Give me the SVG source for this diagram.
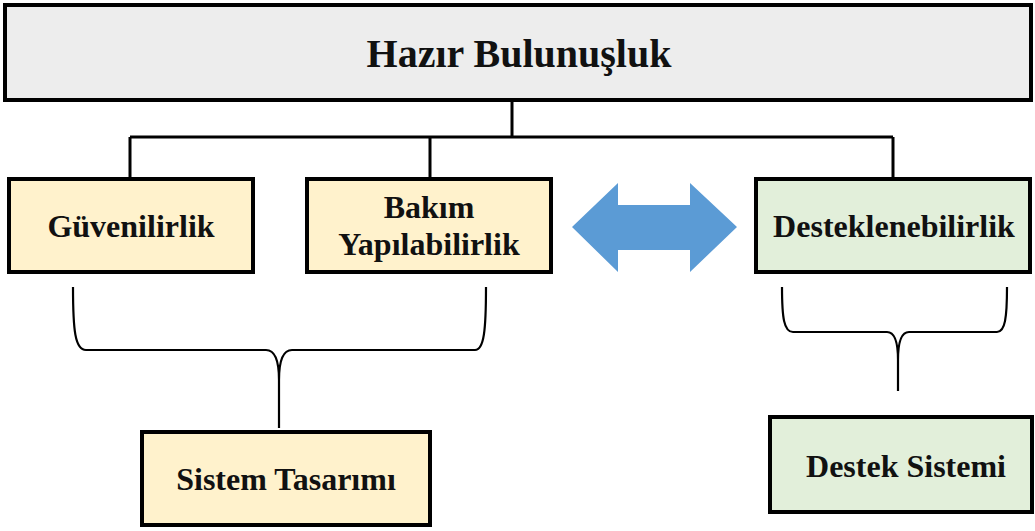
<svg xmlns="http://www.w3.org/2000/svg" width="1035" height="531" viewBox="0 0 1035 531">
  <style>
    .box { stroke: #000; stroke-width: 4; }
    .root { fill: #EDEDED; }
    .yellow { fill: #FFF2CC; }
    .green { fill: #E2EFDA; }
    .label { font-family: "Liberation Serif", "Times New Roman", serif; font-weight: bold; font-size: 32px; fill: #111; text-anchor: middle; }
    .tree { fill: none; stroke: #000; stroke-width: 3; }
    .brace { fill: none; stroke: #000; stroke-width: 2.2; }
  </style>
  <rect width="1035" height="531" fill="#fff"/>

  <!-- Connectors -->
  <g id="connectors">
    <path class="tree" d="M512,100 V137 M130,137 H893 M130,137 V178 M430,137 V178 M893,137 V178"/>
    <path class="brace" d="M73,287 C73,330 75,350 86,350 L266,350 C275,350 279,360 279,380 C279,360 283,350 292,350 L475,350 C484,350 486,330 486,287 M279,378 V428"/>
    <path class="brace" d="M782,287 C782,318 784,332 793,332 L887,332 C895,332 898,342 898,360 C898,342 901,332 909,332 L997,332 C1005,332 1007,318 1007,287 M898,358 V391"/>
    <path fill="#5B9BD5" d="M572,227 L618,183 V205 H690 V183 L737,227 L690,272 V250 H618 V272 Z"/>
  </g>

  <g id="hazir-bulunusluk">
    <rect class="box root" x="5" y="5" width="1026" height="95"/>
    <text class="label" x="519" y="67" style="font-size:40px">Hazır Bulunuşluk</text>
  </g>

  <g id="guvenilirlik">
    <rect class="box yellow" x="9" y="179" width="244" height="93"/>
    <text class="label" x="131" y="237">Güvenilirlik</text>
  </g>

  <g id="bakim-yapilabilirlik">
    <rect class="box yellow" x="307" y="179" width="244" height="93"/>
    <text class="label" x="429" y="218">Bakım</text>
    <text class="label" x="429" y="255">Yapılabilirlik</text>
  </g>

  <g id="desteklenebilirlik">
    <rect class="box green" x="756" y="179" width="274" height="93"/>
    <text class="label" x="894" y="237">Desteklenebilirlik</text>
  </g>

  <g id="sistem-tasarimi">
    <rect class="box yellow" x="142" y="432" width="288" height="93"/>
    <text class="label" x="286" y="490">Sistem Tasarımı</text>
  </g>

  <g id="destek-sistemi">
    <rect class="box green" x="770" y="417" width="262" height="95"/>
    <text class="label" x="906" y="477">Destek Sistemi</text>
  </g>
</svg>
